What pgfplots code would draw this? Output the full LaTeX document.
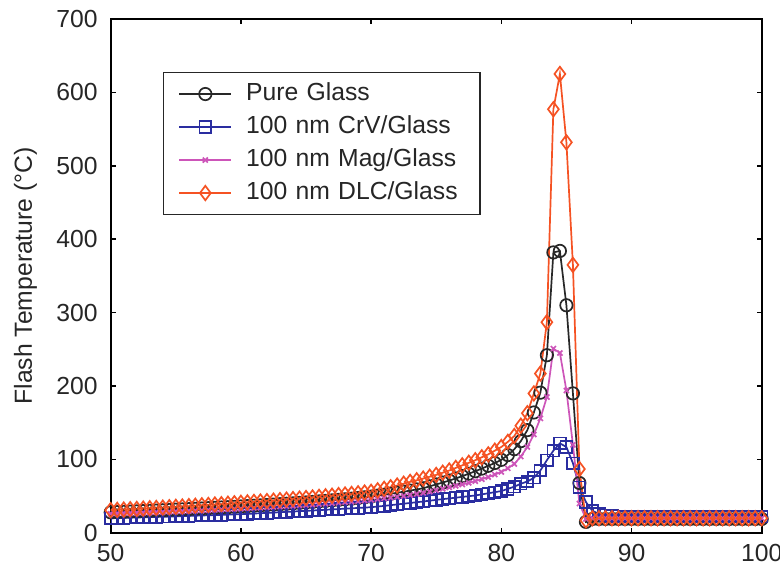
\documentclass[border=0pt]{standalone}
\usepackage{pgfplots}
\usepackage{pgfplotstable}
\pgfplotsset{compat=1.18}
\usepackage{fontspec}
\setmainfont{Liberation Sans}

\definecolor{pureblack}{RGB}{40,40,40}
\definecolor{crvblue}{RGB}{42,45,160}
\definecolor{magpink}{RGB}{205,85,185}
\definecolor{dlcorange}{RGB}{245,82,35}

% flash temperature vs. angle for each coating
\pgfplotstableread{
x     pure   crv    mag    dlc
50    28.0   20.0   26.0   31.0
50.5  28.3   20.2   26.3   31.4
51    28.6   20.5   26.6   31.8
51.5  29.0   20.7   26.9   32.3
52    29.3   21.0   27.2   32.7
52.5  29.7   21.2   27.5   33.1
53    30.0   21.5   27.9   33.6
53.5  30.4   21.7   28.2   34.0
54    30.8   22.0   28.5   34.5
54.5  31.2   22.2   28.9   35.0
55    31.6   22.5   29.2   35.5
55.5  32.0   22.8   29.5   36.0
56    32.4   23.1   29.9   36.5
56.5  32.8   23.4   30.2   37.0
57    33.2   23.7   30.6   37.6
57.5  33.7   24.0   31.0   38.1
58    34.1   24.3   31.4   38.7
58.5  34.6   24.6   31.8   39.2
59    35.0   24.9   32.2   39.8
59.5  35.5   25.2   32.6   40.4
60    36.0   25.5   33.0   41.0
60.5  36.5   25.9   33.5   41.6
61    37.0   26.4   34.0   42.2
61.5  37.5   26.8   34.4   42.8
62    38.0   27.3   34.9   43.4
62.5  38.6   27.7   35.4   44.0
63    39.1   28.2   35.9   44.7
63.5  39.7   28.6   36.4   45.4
64    40.3   29.1   36.9   46.1
64.5  40.9   29.6   37.5   46.8
65    41.5   30.0   38.0   47.5
65.5  42.2   30.5   38.6   48.3
66    42.9   31.0   39.2   49.1
66.5  43.6   31.5   39.8   49.9
67    44.3   32.0   40.4   50.7
67.5  45.0   32.5   41.1   51.5
68    45.8   33.0   41.8   52.3
68.5  46.6   33.5   42.5   53.1
69    47.5   34.0   43.2   54.0
69.5  48.5   34.5   44.1   55.0
70    49.5   35.0   45.0   56.0
70.5  50.8   35.9   46.0   58.0
71    52.0   36.8   47.0   60.0
71.5  53.3   37.8   48.0   62.2
72    54.7   38.8   49.0   64.5
72.5  56.1   39.8   50.3   67.0
73    57.6   40.8   51.6   69.5
73.5  59.2   41.8   53.0   71.7
74    60.8   42.8   54.5   74.0
74.5  63.5   43.9   56.2   76.5
75    66.0   45.0   58.0   79.0
75.5  68.6   46.0   60.0   82.0
76    71.3   47.0   62.0   85.0
76.5  74.2   48.0   64.0   88.5
77    77.3   49.0   66.0   92.0
77.5  80.6   50.0   68.2   95.5
78    84.0   51.0   70.5   99.0
78.5  87.6   52.5   73.2   103
79    91.4   54.0   76.0   107
79.5  95.2   55.5   79.5   112
80    99.5   57.0   83.0   117
80.5  106    60.0   88     124
81    114    63.0   94     132
81.5  125    67.0   104    146
82    140    70.0   117    163
82.5  164    75.0   134    190
83    191    85.0   156    217
83.5  242    99.0   185    287
84    382    112    251    577
84.5  384    122    245    625
85    310    117    194    532
85.5  190    95     120    365
86    68     62     40     87
86.5  15     42     19     17
87    19     30     20     20
87.5  19     26     20     20
88    19     24     20     20
88.5  19     23     20     20
89    19     22.5   20     20
89.5  19     22     20     20
90    19     22     20     20
90.5  19     22     20     20
91    19     22     20     20
91.5  19     22     20     20
92    19     22     20     20
92.5  19     22     20     20
93    19     22     20     20
93.5  19     22     20     20
94    19     22     20     20
94.5  19     22     20     20
95    19     22     20     20
95.5  19     22     20     20
96    19     22     20     20
96.5  19     22     20     20
97    19     22     20     20
97.5  19     22     20     20
98    19     22     20     20
98.5  19     22     20     20
99    19     22     20     20
99.5  19     22     20     20
100   19     22     20     20
}\flashdata

\begin{document}
\begin{tikzpicture}
\begin{axis}[
  name=main,
  scale only axis,
  width=325.5bp, height=257bp,
  xmin=50, xmax=100, ymin=0, ymax=700,
  xtick={50,60,...,100}, ytick={0,100,...,700},
  tick align=inside,
  major tick length=2.6bp,
  axis line style={line width=1bp, black},
  every tick/.style={black, line width=0.8bp},
  /pgf/number format/assume math mode=true,
  ticklabel style={font=\fontsize{12.4}{14}\selectfont, text=black!85},
  xticklabel style={yshift=-2.2bp},
  yticklabel style={xshift=-3.0bp},
  ylabel={Flash Temperature (°C)},
  ylabel style={font=\fontsize{12.4}{14}\selectfont, text=black!85,
    at={(axis description cs:-0.131,0.5)}, anchor=center},
  clip=false,
  legend cell align=left,
  legend image code/.code={
    \draw[mark repeat=2, mark phase=2] plot coordinates {(0bp,0bp) (13bp,0bp) (26bp,0bp)};
  },
  legend style={
    at={(rel axis cs:0.08,0.897)}, anchor=north west,
    draw=black!85, line width=0.7bp,
    font=\fontsize{12.4}{14}\selectfont,
    text=black!85,
    inner xsep=7.5bp, inner ysep=3.1bp,
    row sep=1.2bp,
    nodes={text height=9.5bp, text depth=2.8bp, inner sep=1.5bp},
    /tikz/every odd column/.append style={column sep=5.5bp},
    /tikz/every even column/.append style={text width=108bp, align=left},
  },
  every axis plot/.append style={line width=0.85bp},
]
\addplot[color=pureblack, mark=o, mark size=3.1bp, mark options={fill=none}]
  table[x=x, y=pure] {\flashdata};
\addlegendentry{Pure Glass}
\addplot[color=crvblue, mark=square, mark size=2.9bp, mark options={fill=none}]
  table[x=x, y=crv] {\flashdata};
\addlegendentry{100 nm CrV/Glass}
\addplot[color=magpink, mark=x, mark size=1.8bp]
  table[x=x, y=mag] {\flashdata};
\addlegendentry{100 nm Mag/Glass}
\addplot[color=dlcorange, mark=diamond, mark size=3.6bp, mark options={fill=none}]
  table[x=x, y=dlc] {\flashdata};
\addlegendentry{100 nm DLC/Glass}
\end{axis}
\pgfresetboundingbox
\path (main.south west) ++(-55.35bp,-19.65bp) coordinate (bbA);
\path (main.north east) ++(9.15bp,9.45bp) coordinate (bbB);
\useasboundingbox (bbA) rectangle (bbB);
\end{tikzpicture}
\end{document}
